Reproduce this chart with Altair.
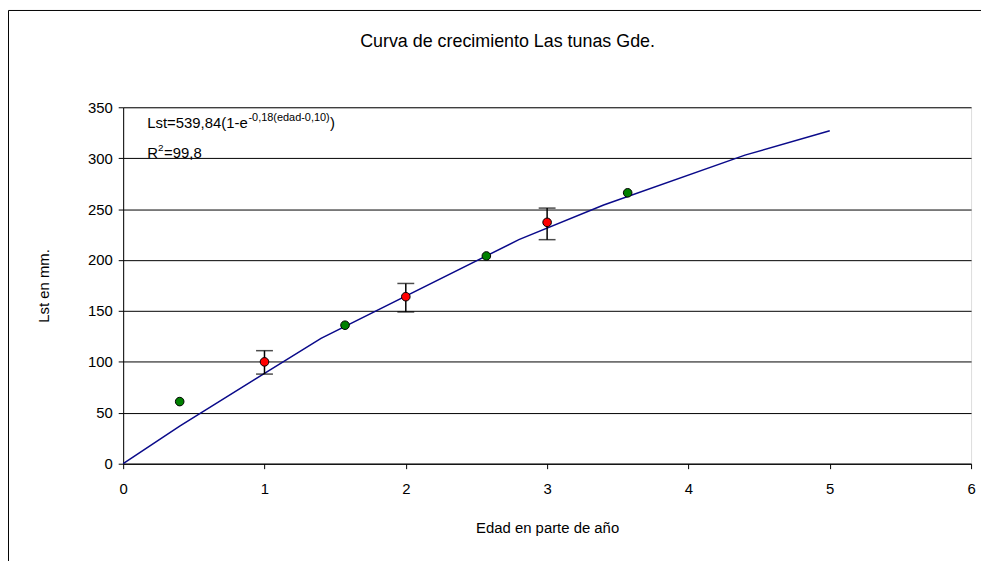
import altair as alt
import pandas as pd

# ---- data ----
curve_x = [0.0, 0.4, 1.4, 2.8, 3.4, 4.4, 5.0]
curve_y = [0, 37, 123, 220, 254, 303, 327]

green_x = [0.4, 1.57, 2.57, 3.57]
green_y = [61, 136, 204, 266]

red_x = [1, 2, 3]
red_y = [100, 164, 237]
red_lo = [88, 149, 220]
red_hi = [111, 177, 251]

title_text = "Curva de crecimiento Las tunas Gde."
x_title = "Edad en parte de año"
y_title = "Lst en mm."
x_ticks = [0, 1, 2, 3, 4, 5, 6]
y_ticks = [0, 50, 100, 150, 200, 250, 300, 350]

FONT = "Liberation Sans"

curve_df = pd.DataFrame({"x": curve_x, "y": curve_y})
green_df = pd.DataFrame({"x": green_x, "y": green_y})
red_df = pd.DataFrame({"x": red_x, "y": red_y, "lo": red_lo, "hi": red_hi})

xs = alt.Scale(domain=[0, 6], nice=False, zero=False)
ys = alt.Scale(domain=[0, 350], nice=False)

X = alt.X("x:Q", scale=xs, title=x_title, axis=alt.Axis(
    values=x_ticks, format="d", grid=False, tickSize=5, tickColor="black",
    domainColor="black", labelFont=FONT, labelFontSize=15, labelColor="black",
    labelPadding=13, titleFont=FONT, titleFontSize=15, titleFontWeight="normal",
    titleColor="black", titlePadding=24, labelFlush=False))
Y = alt.Y("y:Q", scale=ys, title=y_title, axis=alt.Axis(
    values=y_ticks, format="d", grid=True, gridColor="black", gridWidth=1,
    gridOpacity=1, tickSize=5, tickColor="black", domainColor="black",
    labelFont=FONT, labelFontSize=15, labelColor="black", labelPadding=6,
    titleFont=FONT, titleFontSize=15, titleFontWeight="normal",
    titleColor="black", titlePadding=36))

line = alt.Chart(curve_df).mark_line(color="#0a0a8a", strokeWidth=1.5).encode(x=X, y=Y)

err = alt.Chart(red_df).mark_errorbar(ticks=alt.MarkConfig(size=17, color="black", strokeWidth=1.5),
                                      color="black", thickness=1.5).encode(
    x=alt.X("x:Q", scale=xs, title=x_title),
    y=alt.Y("lo:Q", scale=ys, title=y_title), y2="hi:Q")

green_pts = alt.Chart(green_df).mark_point(
    filled=True, fill="#008000", stroke="black", strokeWidth=1, size=75, opacity=1
).encode(x=alt.X("x:Q", scale=xs, title=x_title), y=alt.Y("y:Q", scale=ys, title=y_title))

red_pts = alt.Chart(red_df).mark_point(
    filled=True, fill="#ff0000", stroke="black", strokeWidth=1, size=75, opacity=1
).encode(x=alt.X("x:Q", scale=xs, title=x_title), y=alt.Y("y:Q", scale=ys, title=y_title))

# text placed in data coordinates
ann_title = pd.DataFrame({"x": [2.72], "y": [414], "t": [title_text]})
ann_main = pd.DataFrame({"x": [0.17], "y": [330], "t": ["Lst=539,84(1-e"]})
ann_sup = pd.DataFrame({"x": [0.17], "y": [330], "t": ["-0,18(edad-0,10)"]})
ann_close = pd.DataFrame({"x": [0.17], "y": [330], "t": [")"]})
ann_r = pd.DataFrame({"x": [0.17], "y": [300], "t": ["R"]})
ann_r2 = pd.DataFrame({"x": [0.17], "y": [300], "t": ["2"]})
ann_rv = pd.DataFrame({"x": [0.17], "y": [300], "t": ["=99,8"]})

def txt(df, size, dx=0, dy=0, align="left", baseline="alphabetic"):
    return alt.Chart(df).mark_text(font=FONT, fontSize=size, align=align,
                                   baseline=baseline, color="black", dx=dx, dy=dy).encode(
        x=alt.X("x:Q", scale=xs, title=x_title), y=alt.Y("y:Q", scale=ys, title=y_title), text="t:N")

texts = (txt(ann_main, 15) + txt(ann_sup, 11, dx=102, dy=-7) + txt(ann_close, 15, dx=184)
         + txt(ann_r, 15) + txt(ann_r2, 10, dx=11, dy=-7) + txt(ann_rv, 15, dx=17)
         + txt(ann_title, 18, align="center", baseline="middle"))

# outer chart-area frame (left and top edges, as in the reference)
frame_left = alt.Chart(curve_df.head(1)).mark_rule(color="black", strokeWidth=1).encode(
    x=alt.value(-115.5), y=alt.value(-97.5), y2=alt.value(470))
frame_top = alt.Chart(curve_df.head(1)).mark_rule(color="black", strokeWidth=1).encode(
    x=alt.value(-115.5), x2=alt.value(870), y=alt.value(-97.5))

chart = alt.layer(line, err, green_pts, red_pts, texts, frame_left, frame_top).properties(
    width=854, height=359,
    autosize=alt.AutoSizeParams(type="none"),
    padding={"left": 116, "top": 98, "right": 10, "bottom": 96},
).configure_view(stroke=None).configure(background="white")

chart.save("out.html", embed_options={"renderer": "svg", "actions": False})
